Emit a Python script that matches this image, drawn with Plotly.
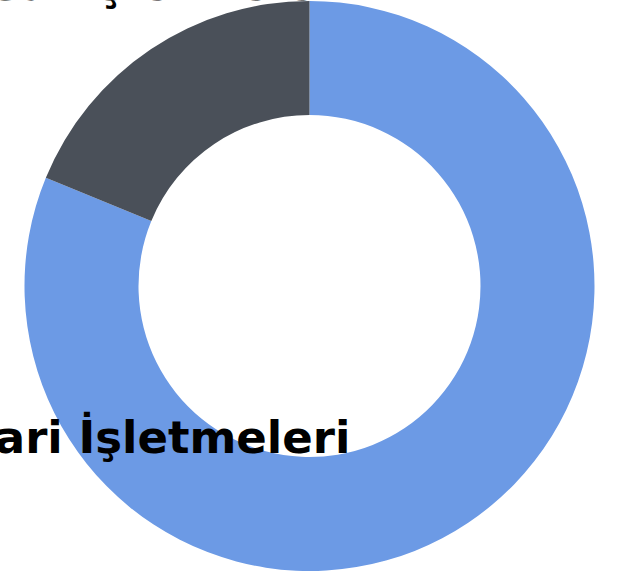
import plotly.graph_objects as go

labels = ["Ticari İşletmeleri", "Kurumsal İşletmeleri"]
values = [81.2, 18.8]
colors = ["#6C9AE5", "#4A5059"]

fig = go.Figure(go.Pie(
    labels=labels,
    values=values,
    hole=0.6,
    sort=False,
    direction="clockwise",
    rotation=0,
    textinfo="none",
    marker=dict(colors=colors, line=dict(width=0)),
    showlegend=False,
))

# label annotations (right-aligned, clipped at chart edges like the reference)
label_pos = [(352, 437), (355, -15)]
annotations = []
for lab, (px, py) in zip(labels, label_pos):
    annotations.append(dict(
        text=lab, xref="paper", yref="paper",
        x=px / 619, y=1 - (py - 1) / 570,
        xanchor="right", yanchor="middle", showarrow=False,
        font=dict(family="DejaVu Sans", size=45, color="#000000", weight="bold"),
    ))

fig.update_layout(
    width=619, height=578,
    margin=dict(l=0, r=0, t=1, b=7),
    paper_bgcolor="white", plot_bgcolor="white",
    annotations=annotations,
)

fig.write_html("out.html")
